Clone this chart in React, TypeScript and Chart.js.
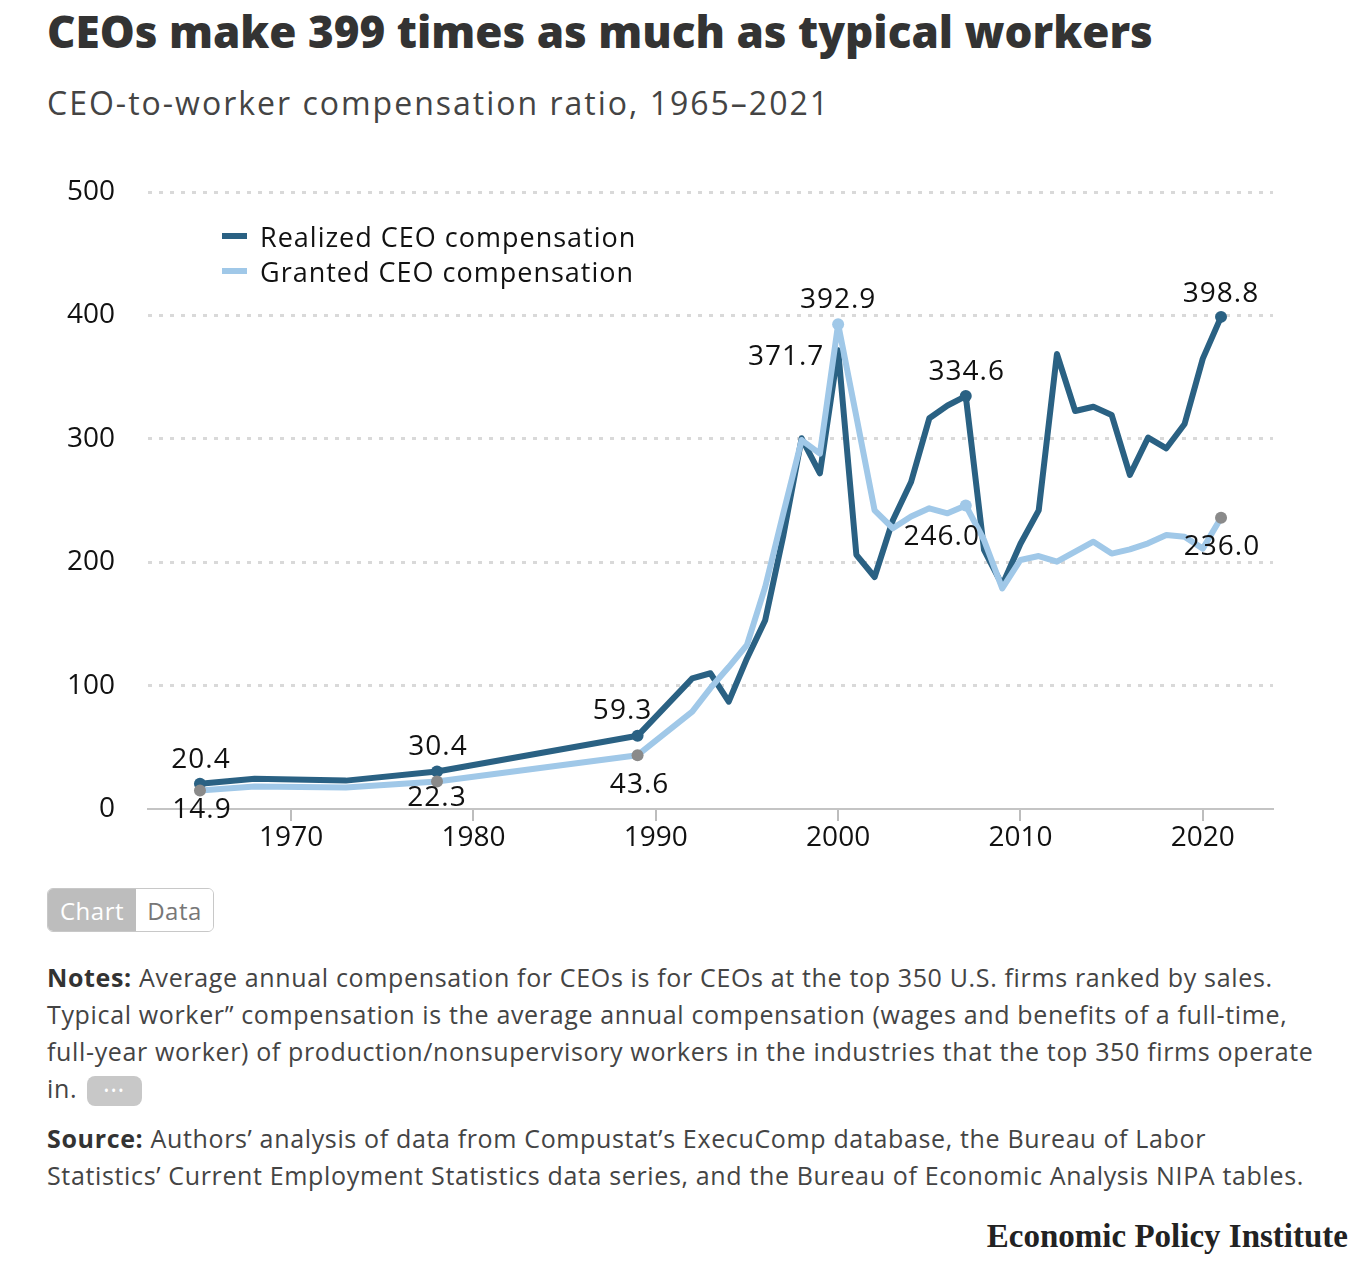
import React, { useEffect, useRef } from "react";
import { Chart, registerables } from "chart.js";

Chart.register(...registerables);

const years = [1965, 1968, 1973, 1978, 1989, 1992, 1993, 1994, 1995, 1996, 1997, 1998, 1999, 2000, 2001, 2002, 2003, 2004, 2005, 2006, 2007, 2008, 2009, 2010, 2011, 2012, 2013, 2014, 2015, 2016, 2017, 2018, 2019, 2020, 2021];

const realized = [20.4, 24.5, 23.0, 30.4, 59.3, 105.9, 110.0, 87.0, 122.0, 153.0, 222.0, 300.4, 272.0, 371.7, 206.0, 188.0, 234.0, 265.0, 316.6, 327.0, 334.6, 210.0, 181.5, 215.0, 242.0, 368.7, 322.5, 326.0, 319.3, 270.7, 301.0, 292.3, 312.0, 365.0, 398.8];

const granted = [14.9, 18.3, 17.5, 22.3, 43.6, 78.9, 98.0, 115.0, 133.0, 180.0, 240.0, 299.0, 288.0, 392.9, 318.0, 242.0, 227.5, 237.0, 243.7, 239.6, 246.0, 218.0, 178.8, 201.8, 205.0, 200.4, 208.5, 216.6, 207.0, 210.4, 215.3, 222.0, 220.7, 211.0, 236.0];

const xTicks = [1970, 1980, 1990, 2000, 2010, 2020];
const seriesNames = ["Realized CEO compensation", "Granted CEO compensation"];

const realizedMarkerYears = [1965, 1978, 1989, 2007, 2021];
const grantedGrayYears = [1965, 1978, 1989, 2021];
const grantedLightYears = [2000, 2007];

// which values get a text label: [series index, year, dx, dy]
const labelSpecs: [number, number, number, number][] = [
  [0, 1965, 1, -24],
  [1, 1965, 2, 19],
  [0, 1978, 1, -24],
  [1, 1978, 0, 17],
  [0, 1989, -15, -25],
  [1, 1989, 2, 30],
  [1, 2000, 0, -24],
  [0, 2000, -52, 7],
  [0, 2007, 1, -24],
  [1, 2007, -24, 32],
  [0, 2021, 0, -23],
  [1, 2021, 1, 29],
];

const DARK = "#2a6183";
const LIGHT = "#a0c8e8";
const GRAY = "#8a8a8a";
const FONT = "'Open Sans', Lato, sans-serif";

const labelPlugin = {
  id: "valueLabels",
  afterDatasetsDraw(chart: any) {
    const ctx = chart.ctx;
    const xs = chart.scales.x;
    const ys = chart.scales.y;
    ctx.save();
    ctx.font = `28px ${FONT}`;
    try {
      ctx.letterSpacing = "1px";
    } catch (e) {}
    ctx.fillStyle = "#111";
    ctx.textAlign = "center";
    ctx.textBaseline = "middle";
    for (const [si, yr, dx, dy] of labelSpecs) {
      const idx = years.indexOf(yr);
      const v = (si === 0 ? realized : granted)[idx];
      const px = xs.getPixelForValue(yr);
      const py = ys.getPixelForValue(v);
      ctx.fillText(v.toFixed(1), px + dx, py + dy);
    }
    ctx.restore();
  },
};

function ChartCanvas() {
  const ref = useRef<HTMLCanvasElement | null>(null);
  useEffect(() => {
    if (!ref.current) return;
    const chart = new Chart(ref.current, {
      type: "line",
      data: {
        datasets: [
          {
            label: seriesNames[0],
            data: years.map((y, i) => ({ x: y, y: realized[i] })),
            borderColor: DARK,
            backgroundColor: DARK,
            borderWidth: 6,
            borderJoinStyle: "round",
            borderCapStyle: "round",
            tension: 0,
            pointRadius: years.map((y) => (realizedMarkerYears.includes(y) ? 6 : 0)),
            pointBackgroundColor: DARK,
            pointBorderWidth: 0,
            pointHoverRadius: 0,
            order: 2,
          },
          {
            label: seriesNames[1],
            data: years.map((y, i) => ({ x: y, y: granted[i] })),
            borderColor: LIGHT,
            backgroundColor: LIGHT,
            borderWidth: 6,
            borderJoinStyle: "round",
            borderCapStyle: "round",
            tension: 0,
            pointRadius: years.map((y) =>
              grantedGrayYears.includes(y) || grantedLightYears.includes(y) ? 6 : 0
            ),
            pointBackgroundColor: years.map((y) => (grantedGrayYears.includes(y) ? GRAY : LIGHT)),
            pointBorderWidth: 0,
            pointHoverRadius: 0,
            order: 1,
          },
        ],
      },
      options: {
        animation: false,
        responsive: false,
        maintainAspectRatio: false,
        events: [],
        layout: { autoPadding: false, padding: { top: 42, right: 91, bottom: 0, left: 0 } },
        plugins: {
          legend: { display: false },
          tooltip: { enabled: false },
        },
        scales: {
          x: {
            type: "linear",
            min: 1962.15,
            max: 2023.85,
            afterBuildTicks: (s: any) => {
              s.ticks = xTicks.map((v) => ({ value: v }));
            },
            afterFit: (s: any) => {
              s.height = 61;
            },
            grid: {
              display: true,
              drawOnChartArea: false,
              drawTicks: true,
              tickLength: 12,
              color: "#bdbdbd",
              lineWidth: 2,
            },
            border: { display: true, color: "#c4c4c4", width: 2 },
            ticks: {
              padding: 0,
              color: "#111",
              font: { family: FONT, size: 28 },
              maxRotation: 0,
              callback: (v: any) => String(v),
            },
          },
          y: {
            type: "linear",
            min: 0,
            max: 500,
            afterFit: (s: any) => {
              s.width = 148;
              s.paddingTop = 0;
              s.paddingBottom = 0;
            },
            grid: {
              color: (c: any) => (c.tick && c.tick.value === 0 ? "rgba(0,0,0,0)" : "#d9d9d9"),
              lineWidth: 3,
              drawTicks: false,
            },
            border: { display: false, dash: [4, 7] },
            ticks: {
              stepSize: 100,
              padding: 33,
              color: "#111",
              font: { family: FONT, size: 28 },
            },
          },
        },
      },
      plugins: [labelPlugin],
    } as any);
    return () => chart.destroy();
  }, []);
  return (
    <canvas
      ref={ref}
      width={1364}
      height={720}
      style={{ position: "absolute", left: 0, top: 150, width: 1364, height: 720 }}
    />
  );
}

const noteStyle: React.CSSProperties = {
  position: "absolute",
  left: 47,
  fontSize: 25,
  lineHeight: "37px",
  letterSpacing: 0.65,
  color: "#444",
  whiteSpace: "nowrap",
};

export default function App() {
  return (
    <div
      style={{
        position: "absolute",
        left: 0,
        top: 0,
        width: 1364,
        height: 1262,
        background: "#fff",
        fontFamily: FONT,
        color: "#3a3a3a",
        overflow: "hidden",
      }}
    >
      <div
        style={{
          position: "absolute",
          left: 47,
          top: 7,
          fontSize: 44,
          lineHeight: "48px",
          fontWeight: 800,
          color: "#333",
          whiteSpace: "nowrap",
        }}
      >
        CEOs make 399 times as much as typical workers
      </div>
      <div
        style={{
          position: "absolute",
          left: 47,
          top: 84,
          fontSize: 32,
          lineHeight: "38px",
          letterSpacing: 2,
          color: "#444",
          whiteSpace: "nowrap",
        }}
      >
        CEO-to-worker compensation ratio, 1965–2021
      </div>

      <ChartCanvas />

      {seriesNames.map((n, i) => (
        <div
          key={n}
          style={{
            position: "absolute",
            left: 222,
            top: 220 + i * 35,
            height: 32,
            display: "flex",
            alignItems: "center",
            whiteSpace: "nowrap",
            fontSize: 27,
            letterSpacing: 1,
            color: "#111",
          }}
        >
          <span
            style={{
              display: "inline-block",
              width: 25,
              height: 6,
              background: i === 0 ? DARK : LIGHT,
              marginRight: 13,
            }}
          />
          {n}
        </div>
      ))}

      <div
        style={{
          position: "absolute",
          left: 47,
          top: 888,
          height: 42,
          display: "flex",
          border: "1px solid #c8c8c8",
          borderRadius: 6,
          overflow: "hidden",
          fontSize: 24,
          letterSpacing: 0.5,
        }}
      >
        <div
          style={{
            width: 88,
            background: "#bdbdbd",
            color: "#fff",
            display: "flex",
            alignItems: "center",
            justifyContent: "center",
          }}
        >
          Chart
        </div>
        <div
          style={{
            width: 77,
            background: "#fff",
            color: "#777",
            display: "flex",
            alignItems: "center",
            justifyContent: "center",
          }}
        >
          Data
        </div>
      </div>

      <div style={{ ...noteStyle, top: 959 }}>
        <b style={{ color: "#333" }}>Notes:</b> Average annual compensation for CEOs is for CEOs at the top 350 U.S. firms ranked by sales.
        <br />
        Typical worker” compensation is the average annual compensation (wages and benefits of a full-time,
        <br />
        full-year worker) of production/nonsupervisory workers in the industries that the top 350 firms operate
        <br />
        in.
        <span
          style={{
            display: "inline-block",
            width: 55,
            height: 30,
            borderRadius: 8,
            background: "#c8c8c8",
            color: "#fff",
            fontSize: 14,
            lineHeight: "30px",
            textAlign: "center",
            verticalAlign: "middle",
            marginLeft: 10,
            letterSpacing: 2,
          }}
        >
          •••
        </span>
      </div>

      <div style={{ ...noteStyle, top: 1120 }}>
        <b style={{ color: "#333" }}>Source:</b> Authors’ analysis of data from Compustat’s ExecuComp database, the Bureau of Labor
        <br />
        Statistics’ Current Employment Statistics data series, and the Bureau of Economic Analysis NIPA tables.
      </div>

      <div
        style={{
          position: "absolute",
          right: 16,
          top: 1216,
          fontFamily: "'Liberation Serif', 'DejaVu Serif', serif",
          fontWeight: 700,
          fontSize: 33,
          lineHeight: "40px",
          color: "#222",
          whiteSpace: "nowrap",
        }}
      >
        Economic Policy Institute
      </div>
    </div>
  );
}
